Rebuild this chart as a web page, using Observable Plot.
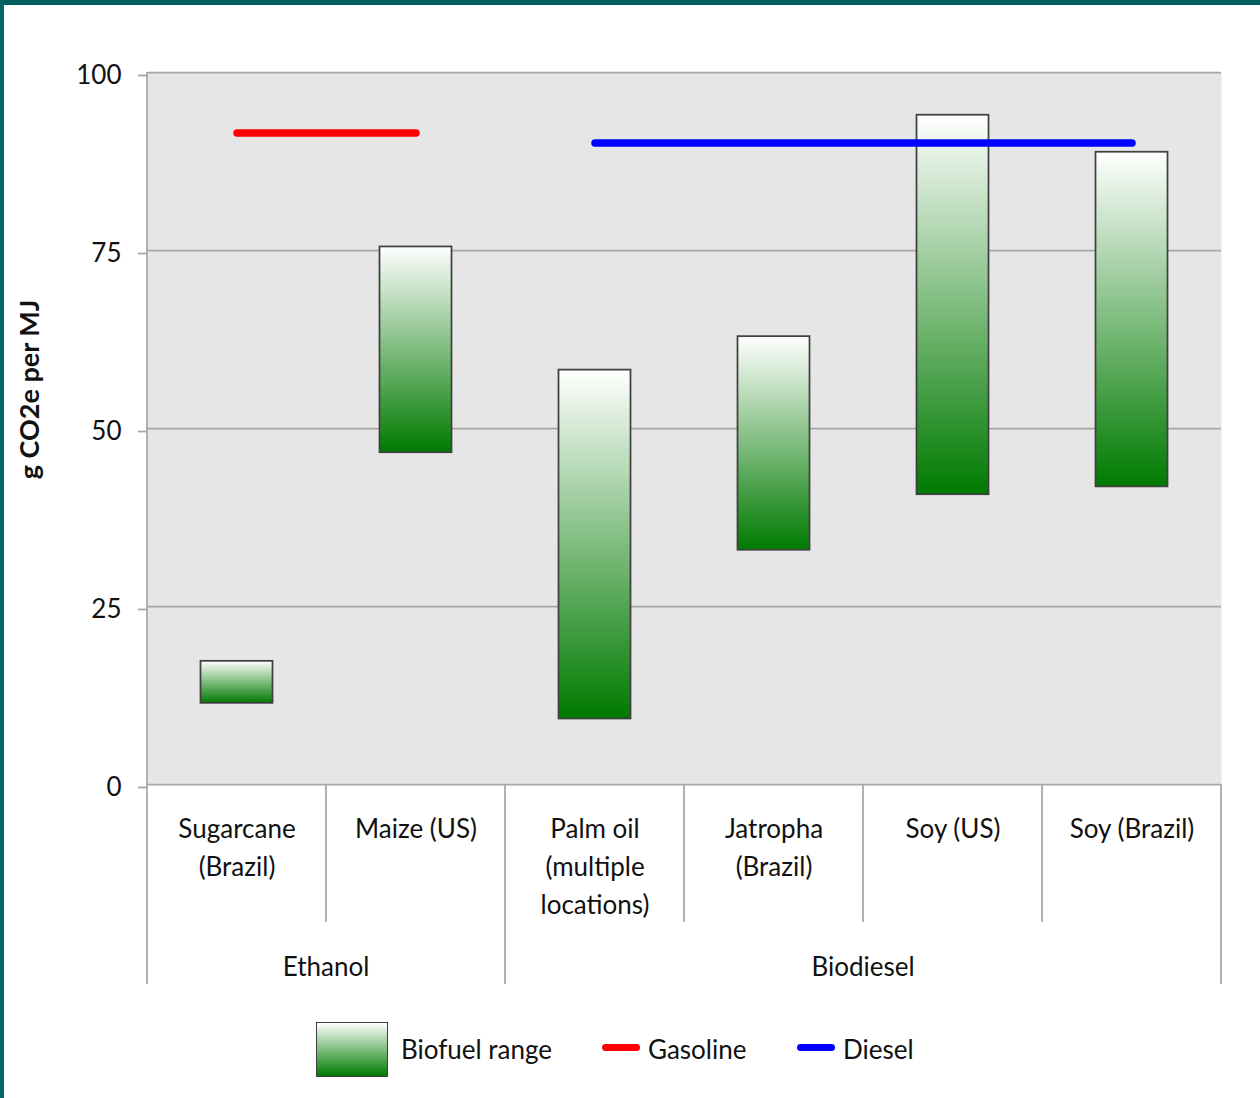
<!DOCTYPE html>
<html>
<head>
<meta charset="utf-8">
<script src="https://cdn.jsdelivr.net/npm/d3@7"></script>
<script src="https://cdn.jsdelivr.net/npm/@observablehq/plot@0.6"></script>
<style>
  html, body { margin: 0; padding: 0; background: #fff; }
  #page { position: relative; width: 1260px; height: 1098px; overflow: hidden; font-family: Lato, "Noto Sans", sans-serif; color: #111; }
  #edgeTop { position: absolute; left: 0; top: 0; width: 1260px; height: 5px; background: #035d5d; }
  #edgeLeft { position: absolute; left: 0; top: 0; width: 4px; height: 1098px; background: #056666; }
  #chart { position: absolute; left: 0; top: 0; }
  #legend { position: absolute; left: 0; top: 1021px; width: 1260px; height: 56px; font-size: 26px; }
  .item { position: absolute; top: 0; height: 56px; display: flex; align-items: center; }
  .box { width: 70px; height: 53px; border: 1.5px solid #404040; background: linear-gradient(#ffffff, #007a00); margin-right: 13px; }
  .stroke { width: 38px; height: 7px; border-radius: 4px; margin-right: 8px; margin-top: -4px; }
</style>
</head>
<body>
<div id="page">
  <div id="chart"></div>
  <div id="legend"></div>
  <div id="edgeTop"></div>
  <div id="edgeLeft"></div>
</div>
<script>
// Life-cycle greenhouse gas emissions of biofuels vs. fossil fuels (g CO2e per MJ)
const crops = [
  "Sugarcane\n(Brazil)",
  "Maize (US)",
  "Palm oil\n(multiple\nlocations)",
  "Jatropha\n(Brazil)",
  "Soy (US)",
  "Soy (Brazil)"
];
const fuelTypes = ["Ethanol", "Ethanol", "Biodiesel", "Biodiesel", "Biodiesel", "Biodiesel"];
const lowValues = [11.4, 46.6, 9.2, 32.9, 40.7, 41.8];
const highValues = [17.3, 75.5, 58.2, 62.9, 94.0, 88.8];
const gasolineValue = 91.5;
const dieselValue = 90.1;
const yTicks = [0, 25, 50, 75, 100];
const yLabel = "g CO2e per MJ";
const legendLabels = ["Biofuel range", "Gasoline", "Diesel"];

const ranges = crops.map((crop, i) => ({crop, fuel: fuelTypes[i], low: lowValues[i], high: highValues[i]}));
const gasoline = ranges.filter(d => d.fuel === "Ethanol").map(d => ({crop: d.crop, value: gasolineValue}));
const diesel = ranges.filter(d => d.fuel === "Biodiesel").map(d => ({crop: d.crop, value: dieselValue}));

const grey = "#a6a6a6";
const W = 1260, H = 1000;
const mTop = 72, mLeft = 147, mRight = 39, mBottom = 216;
const bandW = (W - mLeft - mRight) / crops.length;
const barInset = (bandW - 72) / 2;

const plot = Plot.plot({
  width: W,
  height: H,
  marginTop: mTop,
  marginLeft: mLeft,
  marginRight: mRight,
  marginBottom: mBottom,
  style: {fontFamily: "Lato, 'Noto Sans', sans-serif", fontSize: "26px", color: "#111", background: "transparent"},
  x: {type: "band", domain: crops, padding: 0},
  y: {domain: [0, 100]},
  marks: [
    Plot.frame({fill: "#e6e6e6", stroke: "none"}),
    Plot.gridY(yTicks.filter(t => t > 0), {stroke: grey, strokeOpacity: 1, strokeWidth: 1.75}),
    Plot.ruleY([0], {stroke: grey, strokeWidth: 1.75}),
    Plot.axisY({
      ticks: yTicks, tickSize: 9, tickPadding: 17, stroke: grey, strokeWidth: 1.75,
      strokeOpacity: 1, fontSize: 26, fill: "#111", label: null, dy: 3
    }),
    Plot.axisX({
      tickSize: 0, tickPadding: 27, fontSize: 26, fill: "#111", label: null, lineHeight: 1.46
    }),
    Plot.barY(ranges, {
      x: "crop", y1: "low", y2: "high",
      fill: "url(#biofuelGradient)", stroke: "#404040", strokeWidth: 1.75,
      insetLeft: barInset, insetRight: barInset
    }),
    Plot.line(gasoline, {x: "crop", y: "value", stroke: "#ff0000", strokeWidth: 7.5, strokeLinecap: "round"}),
    Plot.line(diesel, {x: "crop", y: "value", stroke: "#0000ff", strokeWidth: 7.5, strokeLinecap: "round"}),
    Plot.text([yLabel], {
      frameAnchor: "left", textAnchor: "middle", rotate: -90, dx: -117, dy: -39,
      fontSize: 27, fontWeight: "bold", fill: "#111"
    })
  ]
});

const svg = d3.select(plot);

// vertical gradient used by the range bars
const grad = svg.insert("defs", ":first-child")
  .append("linearGradient")
  .attr("id", "biofuelGradient")
  .attr("x1", 0).attr("y1", 0).attr("x2", 0).attr("y2", 1);
grad.append("stop").attr("offset", "0%").attr("stop-color", "#ffffff");
grad.append("stop").attr("offset", "100%").attr("stop-color", "#007a00");

// category separators and fuel-type group labels below the frame
const x = plot.scale("x");
const y = plot.scale("y");
const y0 = y.apply(0), y100 = y.apply(100);
const innerBottom = y0 + 138, groupBottom = y0 + 200;
const g = svg.append("g").attr("stroke", grey).attr("stroke-width", 1.75);
const left = i => x.apply(crops[i]);
const edges = [];
edges.push({px: left(0), top: y100, bottom: groupBottom});
for (let i = 1; i < crops.length; ++i) {
  const sameGroup = fuelTypes[i] === fuelTypes[i - 1];
  edges.push({px: left(i), top: y0, bottom: sameGroup ? innerBottom : groupBottom});
}
edges.push({px: left(crops.length - 1) + x.bandwidth, top: y0, bottom: groupBottom});
for (const e of edges) {
  g.append("line").attr("x1", e.px).attr("x2", e.px).attr("y1", e.top).attr("y2", e.bottom);
}

const groups = d3.groups(ranges, d => d.fuel);
svg.append("g")
  .attr("font-size", 26).attr("fill", "#111").attr("text-anchor", "middle")
  .selectAll("text").data(groups).join("text")
  .attr("x", ([, rows]) => (x.apply(rows[0].crop) + x.apply(rows[rows.length - 1].crop) + x.bandwidth) / 2)
  .attr("y", y0 + 192)
  .text(([name]) => name);

document.getElementById("chart").appendChild(plot);

// legend
const legend = document.getElementById("legend");
const items = [
  {left: 316, swatch: "box", label: legendLabels[0]},
  {left: 602, swatch: "stroke", color: "#ff0000", label: legendLabels[1]},
  {left: 797, swatch: "stroke", color: "#0000ff", label: legendLabels[2]}
];
for (const it of items) {
  const div = document.createElement("div");
  div.className = "item";
  div.style.left = it.left + "px";
  const sw = document.createElement("div");
  sw.className = it.swatch;
  if (it.color) sw.style.background = it.color;
  const span = document.createElement("span");
  span.textContent = it.label;
  div.appendChild(sw);
  div.appendChild(span);
  legend.appendChild(div);
}
</script>
</body>
</html>
